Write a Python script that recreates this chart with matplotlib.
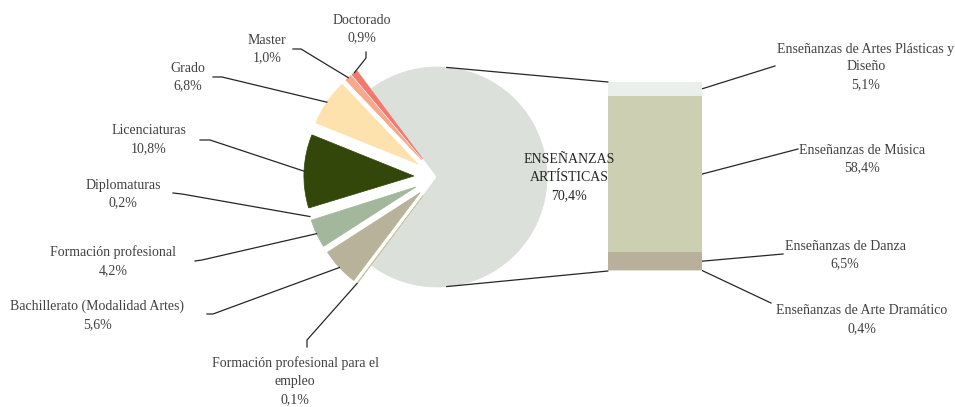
import numpy as np
import matplotlib
matplotlib.use("Agg")
import matplotlib.pyplot as plt
from matplotlib.patches import ConnectionPatch

# pie: share of students by type of studies
pie_labels = ["ENSEÑANZAS\nARTÍSTICAS", "Doctorado", "Master", "Grado", "Licenciaturas",
              "Diplomaturas", "Formación profesional", "Bachillerato (Modalidad Artes)",
              "Formación profesional para el\nempleo"]
pie_values = [70.4, 0.9, 1.0, 6.8, 10.8, 0.2, 4.2, 5.6, 0.1]
pie_colors = ["#DBE0DA", "#F0786E", "#F5A98A", "#FDE2AD", "#33470A",
              "#FFFFFF", "#A2B79C", "#B9B29A", "#C9C6A2"]

# bar: breakdown of "Enseñanzas artísticas" (bottom to top)
bar_labels = ["Enseñanzas de Arte Dramático", "Enseñanzas de Danza",
              "Enseñanzas de Música", "Enseñanzas de Artes Plásticas y\nDiseño"]
bar_values = [0.4, 6.5, 58.4, 5.1]
bar_colors = ["#DCE1DC", "#B8B09A", "#CDCFB3", "#EAEFEB"]

TXT = "#404040"
FONT = "Liberation Serif"
FS = 10
LS = 1.5

def pct(v):
    return f"{v:.1f}%".replace(".", ",")

W, H = 955, 407
fig = plt.figure(figsize=(W / 100, H / 100), dpi=100)
ax = fig.add_axes([0, 0, 1, 1])

cx, cy, R = 437, H - 177, 110
# matplotlib's explode is in data units here (pixels)
explode = [0] + [0.21 * R] * (len(pie_values) - 1)
wedges, _ = ax.pie(pie_values, colors=pie_colors, explode=explode,
                   startangle=-pie_values[0] / 100 * 180, counterclock=True,
                   center=(cx, cy), radius=R)
for w, c in zip(wedges, pie_colors):
    w.set_edgecolor(c)
    w.set_linewidth(0.5)
ax.set_xlim(0, W)
ax.set_ylim(0, H)
ax.set_aspect("equal")
ax.axis("off")

# bar axes
bx0, bx1, by_top, by_bot = 608, 702, 82, 271
bax = fig.add_axes([bx0 / W, (H - by_bot) / H, (bx1 - bx0) / W, (by_bot - by_top) / H])
bottoms = np.concatenate([[0], np.cumsum(bar_values)[:-1]])
bax.bar(0, bar_values, bottom=bottoms, width=1, color=bar_colors, edgecolor="none")
bax.set_xlim(-0.5, 0.5)
bax.set_ylim(0, sum(bar_values))
bax.axis("off")

# connector lines pie -> bar
for ang, yb in [(85, sum(bar_values)), (-85, 0)]:
    p = (cx + R * np.cos(np.radians(ang)), cy + R * np.sin(np.radians(ang)))
    con = ConnectionPatch(xyA=p, coordsA=ax.transData, xyB=(-0.5, yb), coordsB=bax.transData,
                          color="#262626", lw=0.9)
    fig.add_artist(con)

# centre label (figure level so it sits above the bar)
fig.text(569 / W, (H - 178) / H, pie_labels[0] + "\n" + pct(pie_values[0]), ha="center",
         va="center", fontsize=FS, family=FONT, color="#262626", linespacing=LS)

# pie labels: text centre, leader tail, leader elbow (pixel coords from top)
pie_lab_pos = [(362, 29), (267, 49), (188, 77), (149, 140), (123, 194),
               (113, 261), (97, 315), (295, 381)]
pie_tail = [(366, 52), (293, 49), (213, 77), (200, 140), (173, 193),
            (195, 261), (207, 314), (307, 347)]
pie_elbow = [(366, 58), (301, 49), (222, 77), (210, 140), (182, 194),
             (202, 260), (213, 314), (307, 340)]

for i, w in enumerate(wedges[1:]):
    tx, ty = pie_lab_pos[i]
    ax.text(tx, H - ty, pie_labels[i + 1] + "\n" + pct(pie_values[i + 1]), ha="center",
            va="center", fontsize=FS, family=FONT, color=TXT, linespacing=LS)
    th = np.radians((w.theta1 + w.theta2) / 2)
    hx = w.center[0] + w.r * np.cos(th)
    hy = w.center[1] + w.r * np.sin(th)
    (x0, y0), (x1, y1) = pie_tail[i], pie_elbow[i]
    ax.plot([x0, x1, hx], [H - y0, H - y1, hy], color="#262626", lw=0.9)

# bar labels
bar_lab_pos = [(862, 320), (845, 255), (862, 159), (866, 67)]
bar_tail = [(771, 303), (783, 254), (798, 149), (775, 66)]
inv = ax.transData.inverted()
for i, v in enumerate(bar_values):
    tx, ty = bar_lab_pos[i]
    ax.text(tx, H - ty, bar_labels[i] + "\n" + pct(v), ha="center", va="center",
            fontsize=FS, family=FONT, color=TXT, linespacing=LS)
    hx, hy = inv.transform(bax.transData.transform((0.5, bottoms[i] + v / 2)))
    x0, y0 = bar_tail[i]
    ax.plot([hx, x0], [hy, H - y0], color="#262626", lw=0.9)

fig.savefig("out.png", dpi=100, facecolor="white")
